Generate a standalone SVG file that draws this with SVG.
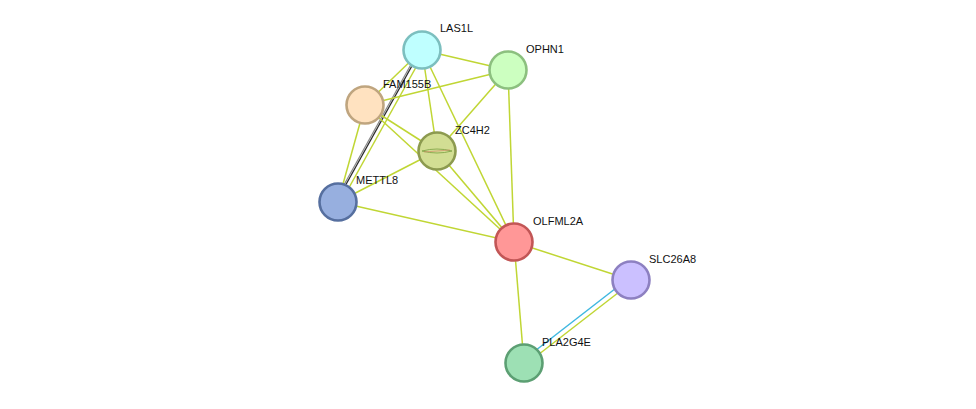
<svg xmlns="http://www.w3.org/2000/svg" width="976" height="409" viewBox="0 0 976 409">
<style>
.e{stroke:#c0d634;stroke-width:1.5;fill:none}
.k{stroke:#2a2a2a;stroke-width:1.3;fill:none}
.g{stroke:#888;stroke-width:1.2;fill:none}
.b{stroke:#3fb8e0;stroke-width:1.5;fill:none}
.n{stroke-width:2.6}
.t{font-family:"Liberation Sans",Arial,sans-serif;font-size:11px;fill:#111}
</style>
<rect width="976" height="409" fill="#fff"/>
<g id="edges">
<line class="e" x1="422" y1="50" x2="508" y2="70"/>
<line class="e" x1="422" y1="50" x2="365" y2="105"/>
<line class="g" x1="419" y1="50" x2="335" y2="201"/>
<line class="k" x1="420.5" y1="50.5" x2="336.5" y2="201.5"/>
<line class="e" x1="425" y1="51" x2="341" y2="202"/>
<line class="e" x1="422" y1="50" x2="437" y2="151"/>
<line class="e" x1="422" y1="50" x2="514" y2="242"/>
<line class="e" x1="508" y1="70" x2="365" y2="105"/>
<line class="e" x1="508" y1="70" x2="437" y2="151"/>
<line class="e" x1="508" y1="70" x2="514" y2="242"/>
<line class="e" x1="365" y1="105" x2="338" y2="202"/>
<line class="e" x1="365" y1="105" x2="437" y2="151"/>
<line class="e" x1="365" y1="105" x2="514" y2="242"/>
<line class="e" x1="437" y1="151" x2="338" y2="202"/>
<line class="e" x1="437" y1="151" x2="514" y2="242"/>
<line class="e" x1="338" y1="202" x2="514" y2="242"/>
<line class="e" x1="514" y1="242" x2="631" y2="280"/>
<line class="e" x1="514" y1="242" x2="524" y2="363"/>
<line class="b" x1="629" y1="278" x2="522" y2="361"/>
<line class="e" x1="632" y1="282" x2="525" y2="365"/>
</g>
<g id="LAS1L"><circle class="n" cx="422" cy="50" r="18.5" fill="#bfffff" stroke="#7cbfbf"/><text class="t" x="440" y="32">LAS1L</text></g>
<g id="OPHN1"><circle class="n" cx="508" cy="70" r="18.5" fill="#ccffc0" stroke="#8cc07f"/><text class="t" x="526" y="53">OPHN1</text></g>
<g id="FAM155B"><circle class="n" cx="365" cy="105" r="18.5" fill="#ffe2c0" stroke="#bfa57f"/><text class="t" x="383" y="88">FAM155B</text></g>
<g id="ZC4H2"><circle class="n" cx="437" cy="151" r="18.5" fill="#d2de93" stroke="#8c9a4f"/><path d="M422 151 Q437 147 452 151 Q437 155 422 151" fill="none" stroke="#7aa040" stroke-width="0.8"/><path d="M424 152 L450 150" stroke="#d08060" stroke-width="0.6"/><text class="t" x="455" y="134">ZC4H2</text></g>
<g id="METTL8"><circle class="n" cx="338" cy="202" r="18.5" fill="#97afdf" stroke="#566f9f"/><text class="t" x="356" y="184">METTL8</text></g>
<g id="OLFML2A"><circle class="n" cx="514" cy="242" r="18.5" fill="#ff9797" stroke="#c25656"/><text class="t" x="533" y="225">OLFML2A</text></g>
<g id="SLC26A8"><circle class="n" cx="631" cy="280" r="18.5" fill="#cbc0ff" stroke="#8d80c1"/><text class="t" x="649" y="263">SLC26A8</text></g>
<g id="PLA2G4E"><circle class="n" cx="524" cy="363" r="18.5" fill="#9de0b4" stroke="#5c9f73"/><text class="t" x="542" y="346">PLA2G4E</text></g>
</svg>
